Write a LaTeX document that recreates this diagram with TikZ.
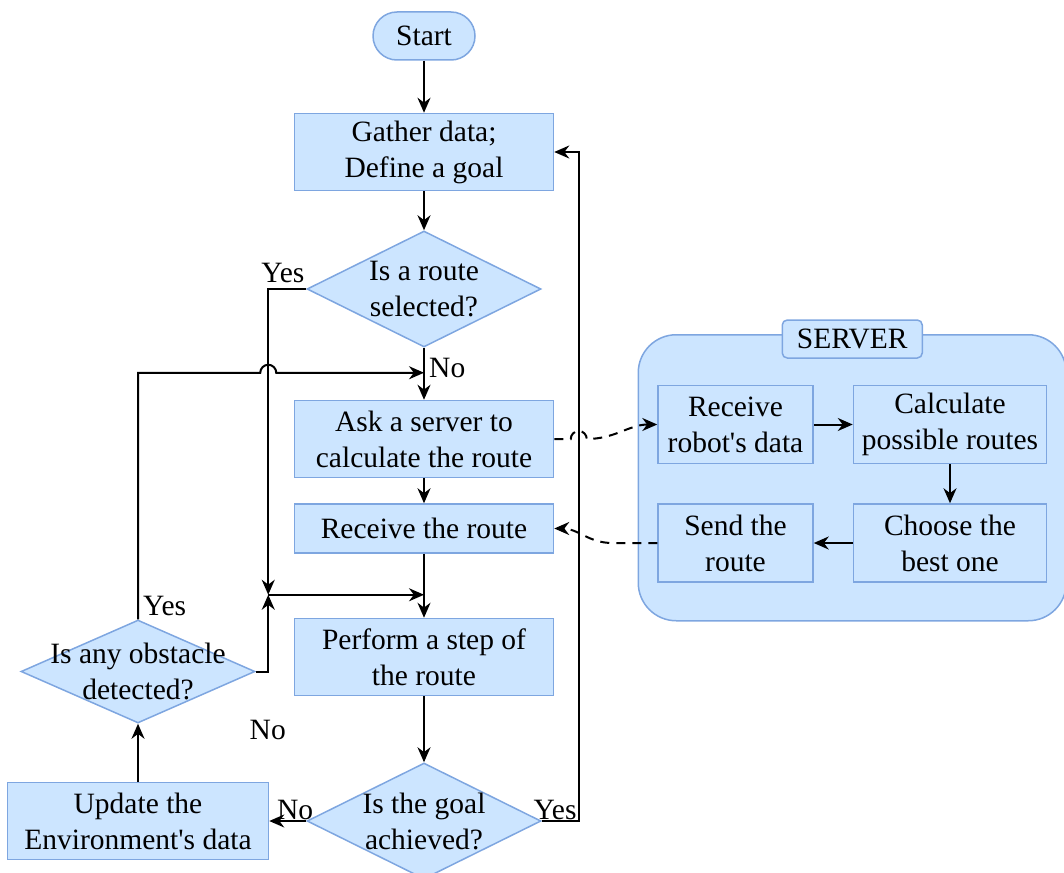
\documentclass[tikz,border=0pt]{standalone}
\usepackage{fontspec}
\setmainfont{Liberation Serif}
\newfontfamily\flowfont{Liberation Serif}
\usetikzlibrary{positioning,shapes.geometric,arrows.meta,fit,backgrounds}
\definecolor{boxfill}{HTML}{CCE5FF}
\definecolor{boxline}{HTML}{7EA6E0}

\tikzset{
	base/.style={draw=boxline, fill=boxfill, line width=1.5pt, align=center, inner sep=2pt},
	process/.style={base, rectangle, minimum width=259pt, minimum height=77pt},
	srvbox/.style={base, rectangle, minimum height=78pt},
	startbox/.style={base, rectangle, rounded corners=24pt, minimum width=102pt, minimum height=48pt},
	decision/.style={base, diamond, minimum width=234pt, minimum height=116pt, inner sep=0pt},
	srvframe/.style={base, rounded corners=38pt},
	titlebox/.style={base, rounded corners=5pt, minimum width=140pt, minimum height=38pt},
	lbl/.style={inner sep=1pt},
	arr/.style={-{Stealth[length=15pt,width=13pt]}, line width=2pt},
	dasharr/.style={arr, dash pattern=on 9pt off 7pt}
}

\begin{document}
\begin{tikzpicture}[every node/.style={font=\flowfont\fontsize{29.5}{36}\selectfont}]
	\useasboundingbox (0,0) rectangle (1064pt,-872pt);
	\node[startbox] (start) at (424pt,-36pt) {Start};
	\node[process, below = 52pt of start](gather){Gather data;\\Define a goal};
	\node[decision, below = 39pt of gather, label={[align=center]center:{Is a route\\selected?}}](d1){};
	\node[process, below = 52pt of d1](ask){Ask a server to\\calculate the route};
	\node[process, below = 25pt of ask, minimum height=49pt](recvroute){Receive the route};
	\node[process, below = 64pt of recvroute](perform){Perform a step of\\the route};
	\node[decision, below = 66pt of perform, label={[align=center]center:{Is the goal\\achieved?}}](d2){};
	\node[process, left = 37pt of d2, minimum width=261pt](update){Update the\\Environment\textquotesingle s data};
	\node[decision, above = 58pt of update, minimum height=103pt, label={[align=center]center:{Is any obstacle\\detected?}}](d3){};
	% server side
	\node[srvbox, right = 103pt of ask, yshift=14.5pt, minimum width=155pt](srecv){Receive\\robot\textquotesingle s data};
	\node[srvbox, right = 39pt of srecv, minimum width=193pt](calc){Calculate\\possible routes};
	\node[srvbox, below = 39pt of calc, minimum width=193pt](choose){Choose the\\best one};
	\node[srvbox, left = 39pt of choose, minimum width=155pt](send){Send the\\route};
	\begin{scope}[on background layer]
		\node[srvframe, fit=(srecv)(calc)(choose)(send), inner xsep=19pt, inner ysep=44pt, yshift=6pt](server){};
	\end{scope}
	\node[titlebox] (srvtitle) at ([yshift=-5pt]server.north) {SERVER};
	% helper points
	\coordinate[left = 38pt of d1.west](ycorner);
	\coordinate[above = 27pt of ask.north](jn);
	\coordinate[above = 23pt of perform.north](mjoin);
	\coordinate (merge) at (ycorner |- mjoin);
	\coordinate[right = 37pt of d2.east](gcorner);
	% edges
	\draw[arr] (start) -- (gather);
	\draw[arr] (gather) -- (d1);
	\draw[arr] (d1) -- (ask);
	\draw[arr] (ask) -- (recvroute);
	\draw[arr] (d1.west) -- (ycorner) -- (merge);
	\draw[arr] (d3.east) -| (merge);
	\draw[arr] (merge) -- (mjoin);
	\draw[arr] (recvroute) -- (perform);
	\draw[arr] (perform) -- (d2);
	\draw[arr] (d2) -- (update);
	\draw[arr] (update) -- (d3);
	\draw[arr] (d2.east) -- (gcorner) |- (gather.east);
	\draw[arr] (d3.north) |- ([xshift=-8pt]ycorner |- jn) arc[start angle=180, end angle=0, radius=8pt] -- (jn);
	\draw[arr] (srecv) -- (calc);
	\draw[arr] (calc) -- (choose);
	\draw[arr] (choose) -- (send);
	\draw[dasharr] (ask.east) -- ([xshift=-8pt]gcorner |- ask.east) arc[start angle=180, end angle=0, radius=8pt] to[out=0, in=180] (srecv.west);
	\draw[dasharr] (send.west) -- ++(-45pt,0) to[out=180, in=0] (recvroute.east);
	% labels
	\node[lbl, anchor=south west] at ([xshift=-8pt,yshift=5pt]ycorner) {Yes};
	\node[lbl, anchor=west] at ([xshift=4pt,yshift=-20pt]d1.south) {No};
	\node[lbl, anchor=south west] at ([xshift=4pt,yshift=2pt]d3.north) {Yes};
	\node[lbl] at ([xshift=12pt,yshift=-58pt]d3.east) {No};
	\node[lbl, anchor=south east] at ([xshift=8pt]d2.west) {No};
	\node[lbl, anchor=south east] at ([xshift=36pt]d2.east) {Yes};
\end{tikzpicture}
\end{document}
